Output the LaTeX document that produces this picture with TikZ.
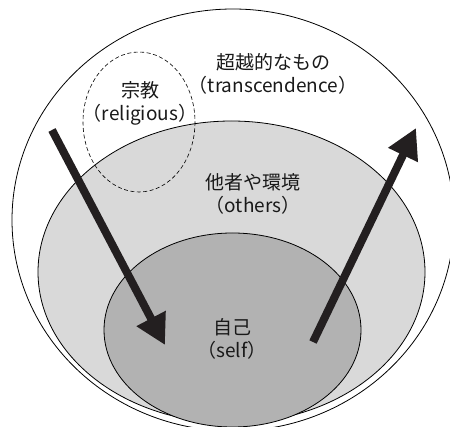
\documentclass[tikz,border=0pt]{standalone}
\usepackage{fontspec}
\newfontfamily\jp{Noto Sans CJK JP}
\usetikzlibrary{arrows.meta}
\definecolor{midgray}{RGB}{217,217,217}
\definecolor{selfgray}{RGB}{178,178,178}
\definecolor{arrowc}{RGB}{35,31,32}
\tikzset{
  ring/.style={draw=black, line width=0.8pt},
  lbl/.style={font=\jp\fontsize{19}{23}\selectfont, align=center, text=black!90, inner sep=0pt},
  bigarrow/.style={draw=arrowc, line width=8pt, -{Triangle[length=30pt,width=31pt]}}
}
\begin{document}
\begin{tikzpicture}[x=1pt,y=-1pt]
\useasboundingbox (0,0) rectangle (450,427);
\clip (0,0) rectangle (450,427);
\fill[white] (0,0) rectangle (450,427);
% outer
\draw[ring, fill=white] (233,220) ellipse [x radius=221, y radius=211];
% others
\draw[ring, fill=midgray] (231.5,272) ellipse [x radius=193.5, y radius=151];
% self
\draw[ring, fill=selfgray] (232.5,330) ellipse [x radius=128.5, y radius=97];
% religious dashed
\draw[line width=0.6pt, dash pattern=on 4pt off 2.5pt] (139,122) ellipse [x radius=56, y radius=70];
% arrows
\coordinate (a1s) at (52,130);
\coordinate (a1e) at (165,345);
\coordinate (a2s) at (313,342);
\coordinate (a2e) at (416,128);
\draw[bigarrow] (a1s) -- (a1e);
\draw[bigarrow] (a2s) -- (a2e);
% labels
\node[lbl] (trans) at (273,74) {超越的なもの\\（transcendence）};
\node[lbl] (rel) at (140,103) {宗教\\（religious）};
\node[lbl] (oth) at (253,194) {他者や環境\\（others）};
\node[lbl] (self) at (232,339) {自己\\（self）};
\end{tikzpicture}
\end{document}
